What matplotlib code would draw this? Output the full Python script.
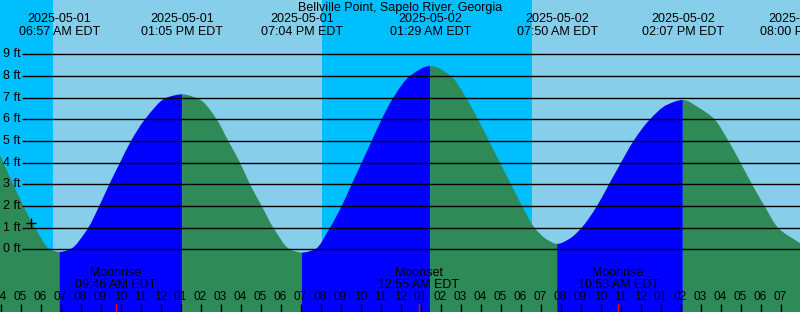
import numpy as np
import matplotlib
matplotlib.use("Agg")
import matplotlib.pyplot as plt
from matplotlib.path import Path
from matplotlib.patches import PathPatch

plt.rcParams['font.family'] = ['Liberation Sans', 'DejaVu Sans']

# ---- data (hours since 2025-05-01 00:00 EDT, heights in ft) ----
tide_time = [3.975, 4.14, 4.64, 5.14, 5.725, 6.475, 6.95,
             7.475, 8.39, 8.94, 9.44, 9.975, 10.525, 11.225, 12.31, 13.083,
             13.975, 14.81, 15.39, 15.975, 16.475, 17.06, 17.64, 18.475, 19.067,
             19.725, 20.475, 21.06, 21.56, 22.06, 22.56, 23.06, 23.64, 24.475, 25.483,
             26.52, 27.275, 27.875, 28.425, 28.975, 29.525, 30.075, 30.7, 31.31, 31.833,
             32.475, 33.06, 33.825, 34.425, 35.025, 35.65, 36.475, 37.31, 38.117,
             38.975, 39.7, 40.4, 41.0, 41.575, 42.2, 42.875, 43.975]
tide_height = [4.35, 4, 3, 2, 1, 0, -0.12,
               0, 1, 2, 3, 4, 5, 6, 7, 7.15,
               6.9, 6, 5, 4, 3, 2, 1, 0, -0.15,
               0, 1, 2, 3, 4, 5, 6, 7, 8, 8.46,
               8, 7, 6, 5, 4, 3, 2, 1, 0.46, 0.25,
               0.5, 1, 2, 3, 4, 5, 6, 6.66, 6.89,
               6.5, 6, 5, 4, 3, 2, 1, 0.28]

event_times = [6.95, 13.083, 19.067, 25.483, 31.833, 38.117, 44.0]
event_dates = ["2025-05-01", "2025-05-01", "2025-05-01", "2025-05-02",
               "2025-05-02", "2025-05-02", "2025-05-02"]
event_labels = ["06:57 AM EDT", "01:05 PM EDT", "07:04 PM EDT", "01:29 AM EDT",
                "07:50 AM EDT", "02:07 PM EDT", "08:00 PM EDT"]

moon_times = [9.767, 24.917, 34.883]
moon_names = ["Moonrise", "Moonset", "Moonrise"]
moon_labels = ["09:46 AM EDT", "12:55 AM EDT", "10:53 AM EDT"]

# night intervals (start, end)
night_start = [3.975, 20.075]
night_end = [6.625, 30.59]

ft_levels = [0, 1, 2, 3, 4, 5, 6, 7, 8, 9]
hour_ticks = list(range(4, 44))
now_time = 5.51
now_height = 1.2

title = "Bellville Point, Sapelo River, Georgia"

# ---- layout ----
T0, T1 = 3.975, 43.975
YB, YT = -2.893, 11.505
PXF = 21.67  # px per ft

def ypx(p):
    return (249.3 - p) / PXF

fig = plt.figure(figsize=(8, 3.12), dpi=100)
ax = fig.add_axes([0, 0, 1, 1])
ax.set_xlim(T0, T1)
ax.set_ylim(YB, YT)
ax.axis('off')

DAY = '#87CEEB'
NIGHT = '#00BFFF'
RISE = '#0000FF'
FALL = '#2E8B57'

ax.axvspan(T0, T1, color=DAY, lw=0, zorder=0)
for s, e in zip(night_start, night_end):
    ax.axvspan(s, e, color=NIGHT, lw=0, zorder=0.5)

t = np.array(tide_time, float)
h = np.array(tide_height, float)
n = len(t)
dt = np.diff(t)
dl = np.diff(h) / dt
# monotone (PCHIP) tangents so the drawn line is smooth
m = np.zeros(n)
m[0] = dl[0]
m[-1] = dl[-1]
for k in range(1, n - 1):
    if dl[k - 1] * dl[k] <= 0:
        m[k] = 0.0
    else:
        w1 = 2 * dt[k] + dt[k - 1]
        w2 = dt[k] + 2 * dt[k - 1]
        m[k] = (w1 + w2) / (w1 / dl[k - 1] + w2 / dl[k])

d = np.sign(np.diff(h))
start = 0
for i in range(1, len(d) + 1):
    if i == len(d) or d[i] != d[start]:
        a, b = start, i
        col = RISE if d[start] > 0 else FALL
        verts = [(t[a], YB), (t[a], h[a])]
        codes = [Path.MOVETO, Path.LINETO]
        for k in range(a, b):
            hk = dt[k]
            verts += [(t[k] + hk / 3, h[k] + m[k] * hk / 3),
                      (t[k + 1] - hk / 3, h[k + 1] - m[k + 1] * hk / 3),
                      (t[k + 1], h[k + 1])]
            codes += [Path.CURVE4] * 3
        verts += [(t[b], YB), (t[a], YB)]
        codes += [Path.LINETO, Path.CLOSEPOLY]
        ax.add_patch(PathPatch(Path(verts, codes), facecolor=col, lw=0,
                               zorder=1, antialiased=True))
        start = i

# grid lines and labels
xg = T0 + 22 / 20
for lv in ft_levels:
    ax.plot([xg, T1], [lv, lv], color='black', lw=1.0, zorder=3,
            solid_capstyle='butt')
    ax.text(T0 + 3 / 20, lv, f"{lv} ft", ha='left', va='center',
            fontsize=9, zorder=4)

# now marker
ax.plot([now_time], [now_height], marker='+', color='black', ms=7,
        mew=1.0, zorder=5)

# title and event labels
ax.text((T0 + T1) / 2, ypx(8), title, ha='center', va='center', fontsize=9,
        zorder=5)
for et, ed, el in zip(event_times, event_dates, event_labels):
    ax.text(et, ypx(19.3), ed, ha='center', va='center', fontsize=9, zorder=5)
    ax.text(et, ypx(31.7), el, ha='center', va='center', fontsize=9, zorder=5)

# moon labels
for mt, mn, ml in zip(moon_times, moon_names, moon_labels):
    ax.text(mt, ypx(273.3), mn, ha='center', va='center', fontsize=9, zorder=5)
    ax.text(mt, ypx(285), ml, ha='center', va='center', fontsize=9, zorder=5)

# hour ticks
for hr in hour_ticks:
    lab = "%02d" % (((hr - 1) % 12) + 1)
    ax.plot([hr, hr], [ypx(304), YB], color='black', lw=1.0, zorder=4,
            solid_capstyle='butt')
    ax.text(hr, ypx(296.7), lab, ha='center', va='center', fontsize=8.5,
            zorder=5)
for mt in moon_times:
    ax.plot([mt, mt], [ypx(304), YB], color='red', lw=1.0, zorder=4,
            solid_capstyle='butt')

fig.savefig("out.png", dpi=100)
